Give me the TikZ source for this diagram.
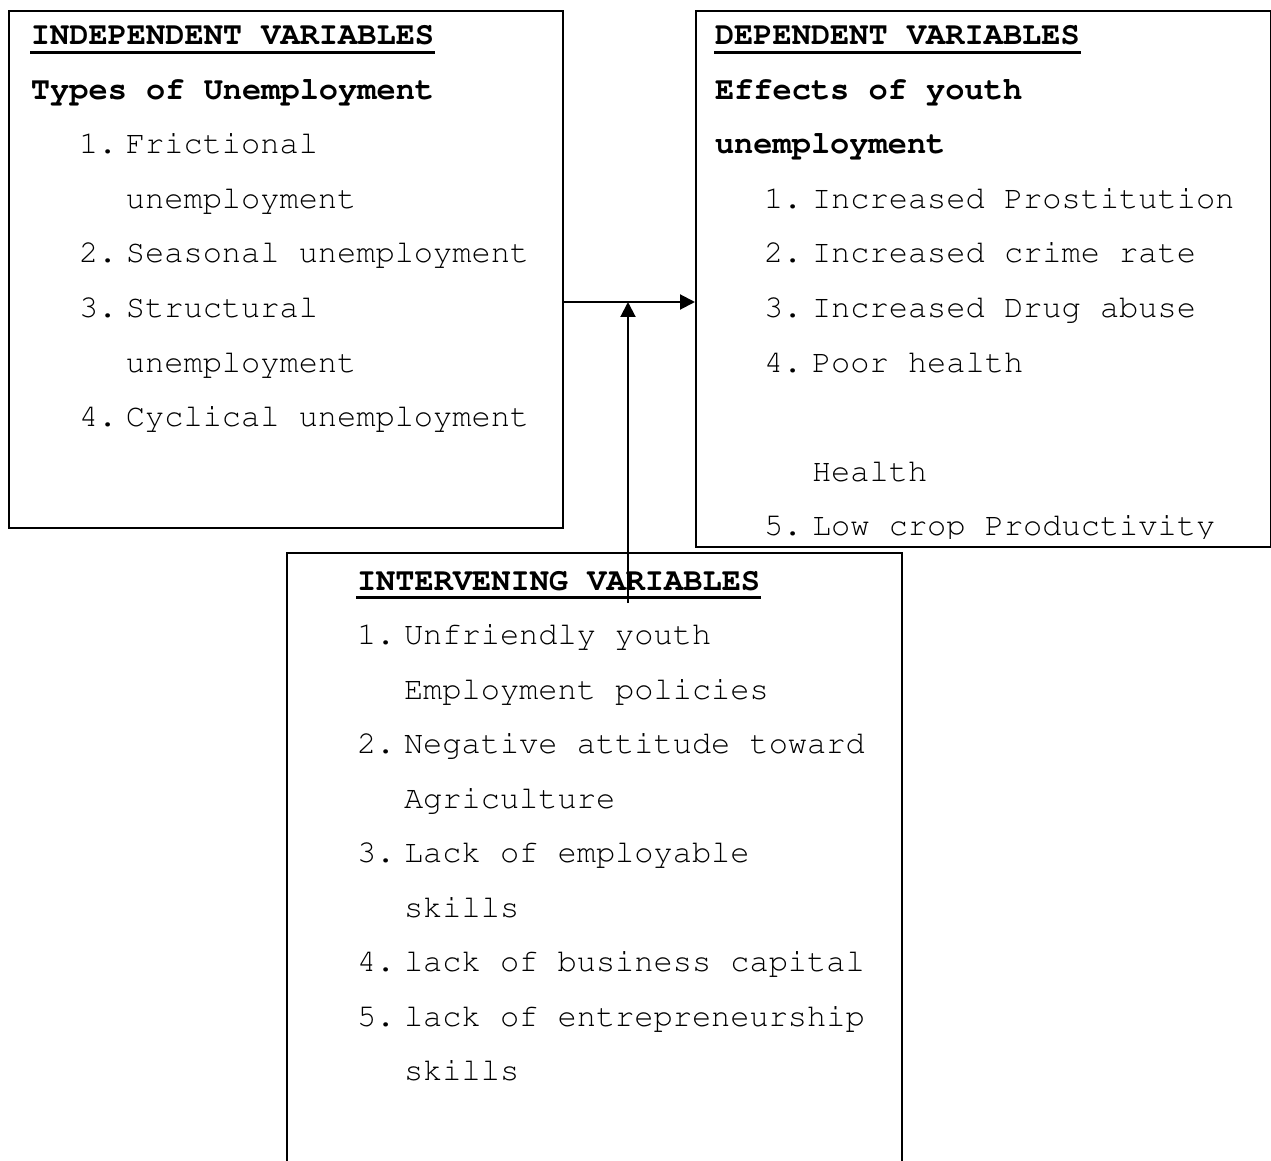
\documentclass[tikz,border=0pt]{standalone}
\usepackage[T1]{fontenc}
\renewcommand{\rmdefault}{pcr}
\usetikzlibrary{arrows.meta}

\begin{document}
\begin{tikzpicture}[
x=0.5pt, y=-0.5pt, % one unit per pixel, y running downwards
>={Triangle[length=7.5pt,width=7.5pt]},
line width=1pt,
box/.style={draw, anchor=north west, inner sep=0pt},
txt/.style={anchor=base west, inner sep=0pt, font=\fontsize{16}{20}\selectfont},
hdr/.style={txt, font=\fontsize{16}{20}\selectfont\bfseries},
rule/.style={line width=1.5pt}
]
\useasboundingbox (0,0) rectangle (1271,1161);

% ================= Boxes =================

\node[box, minimum width=277pt, minimum height=258.5pt] (indep) at (8,10) {};
\node[box, minimum width=287.5pt, minimum height=268pt] (dep) at (695,10) {};
% open at the bottom, runs off the page
\node[anchor=north west, inner sep=0pt, minimum width=306.5pt, minimum height=310pt] (interv) at (287,553) {};
\draw (interv.south west) -- (interv.north west) -- (interv.north east) -- (interv.south east);

% ================= Independent variables =================

\node[hdr] (ihead) at (30,45) {INDEPENDENT VARIABLES};
\draw[rule] ([yshift=-3.75pt]ihead.base west) -- ([yshift=-3.75pt]ihead.base east);
\node[hdr] (itype) at (30,99.5) {Types of Unemployment};
\foreach \num/\row/\words in {1./2/Frictional, /3/unemployment,
  2./4/Seasonal unemployment, 3./5/Structural, /6/unemployment,
  4./7/Cyclical unemployment}{
  \node[txt] (inum\row) at (78,45+54.5*\row) {\num};
  \node[txt] (item\row) at (125,45+54.5*\row) {\words};
}

% ================= Dependent variables =================

\node[hdr] (dhead) at (714,45) {DEPENDENT VARIABLES};
\draw[rule] ([yshift=-3.75pt]dhead.base west) -- ([yshift=-3.75pt]dhead.base east);
\node[hdr] (deff) at (714,99.5) {Effects of youth};
\node[hdr] (dunemp) at (714,154) {unemployment};
\begin{scope}
\clip (695,10) rectangle (1270,538);
\foreach \num/\row/\words in {1./3/Increased Prostitution,
  2./4/Increased crime rate, 3./5/Increased Drug abuse, 4./6/Poor health,
  /8/Health, 5./9/Low crop Productivity}{
  \node[txt] (dnum\row) at (763,45+54.5*\row) {\num};
  \node[txt] (ditem\row) at (811,45+54.5*\row) {\words};
}
\end{scope}

% ================= Intervening variables =================

\node[hdr] (vhead) at (356,590) {INTERVENING VARIABLES};
\draw[rule] ([yshift=-3.75pt]vhead.base west) -- ([yshift=-3.75pt]vhead.base east);
\foreach \num/\row/\words in {1./1/Unfriendly youth, /2/Employment policies,
  2./3/Negative attitude toward, /4/Agriculture, 3./5/Lack of employable,
  /6/skills, 4./7/lack of business capital, 5./8/lack of entrepreneurship,
  /9/skills}{
  \node[txt] (vnum\row) at (356,590+54.5*\row) {\num};
  \node[txt] (vitem\row) at (403,590+54.5*\row) {\words};
}

% ================= Links =================

\coordinate (join) at (628,302);
\coordinate (riser) at (628,603);
\draw[->] (indep.east |- join) -- (dep.west |- join);
\draw[->] (riser) -- (join);

\end{tikzpicture}
\end{document}
